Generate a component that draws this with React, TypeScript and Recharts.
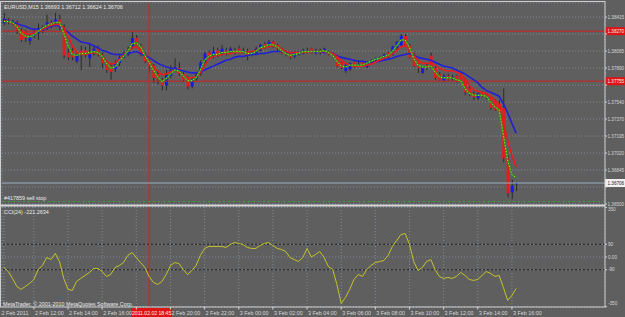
import React from 'react';
import { ComposedChart, LineChart, Bar, Line, XAxis, YAxis, CartesianGrid, ReferenceLine } from 'recharts';

// EURUSD M15, 2 Feb 2011 10:15 .. 3 Feb 2011 16:15
const open = [
  1.3835, 1.3839, 1.3836, 1.3836, 1.3827, 1.3825, 1.3817, 1.3822, 1.3825, 1.3827,
  1.3830, 1.3836, 1.3834, 1.3839, 1.3831, 1.3805, 1.3807, 1.3796, 1.3807, 1.3807,
  1.3799, 1.3804, 1.3809, 1.3803, 1.3794, 1.3791, 1.3788, 1.3794, 1.3800, 1.3803,
  1.3811, 1.3820, 1.3812, 1.3803, 1.3796, 1.3791, 1.3783, 1.3777, 1.3771, 1.3781,
  1.3787, 1.3789, 1.3783, 1.3779, 1.3770, 1.3778, 1.3783, 1.3795, 1.3805, 1.3801,
  1.3807, 1.3803, 1.3807, 1.3805, 1.3807, 1.3809, 1.3805, 1.3806, 1.3803, 1.3804,
  1.3807, 1.3814, 1.3811, 1.3816, 1.3813, 1.3809, 1.3805, 1.3804, 1.3801, 1.3803,
  1.3804, 1.3807, 1.3809, 1.3804, 1.3807, 1.3805, 1.3806, 1.3804, 1.3801, 1.3795,
  1.3786, 1.3788, 1.3795, 1.3791, 1.3795, 1.3790, 1.3795, 1.3797, 1.3798, 1.3799,
  1.3805, 1.3803, 1.3810, 1.3812, 1.3822, 1.3812, 1.3803, 1.3797, 1.3784, 1.3792,
  1.3802, 1.3789, 1.3783, 1.3776, 1.3781, 1.3778, 1.3781, 1.3782, 1.3777, 1.3768,
  1.3763, 1.3758, 1.3764, 1.3762, 1.3759, 1.3755, 1.3752, 1.3748, 1.3696, 1.3661,
  1.36693,
];
const high = [
  1.3846, 1.3841, 1.3839, 1.3838, 1.3830, 1.3828, 1.3825, 1.3828, 1.3835, 1.3833,
  1.3844, 1.3838, 1.3846, 1.3844, 1.3834, 1.3810, 1.3810, 1.3805, 1.3812, 1.3811,
  1.3815, 1.3811, 1.3812, 1.3805, 1.3797, 1.3794, 1.3797, 1.3802, 1.3807, 1.3811,
  1.3826, 1.3823, 1.3814, 1.3805, 1.3798, 1.3793, 1.3787, 1.3779, 1.3787, 1.3792,
  1.3799, 1.3795, 1.3785, 1.3781, 1.3779, 1.3785, 1.3797, 1.3806, 1.3807, 1.3811,
  1.3810, 1.3813, 1.3810, 1.3811, 1.3810, 1.3812, 1.3810, 1.3809, 1.3807, 1.3811,
  1.3814, 1.3816, 1.3818, 1.3817, 1.3814, 1.3810, 1.3807, 1.3805, 1.3806, 1.3806,
  1.3809, 1.3810, 1.3810, 1.3809, 1.3809, 1.3810, 1.3807, 1.3805, 1.3802, 1.3796,
  1.3793, 1.3795, 1.3796, 1.3797, 1.3796, 1.3796, 1.3798, 1.3800, 1.3801, 1.3804,
  1.3806, 1.3812, 1.3817, 1.3824, 1.3824, 1.3814, 1.3805, 1.3798, 1.3791, 1.3794,
  1.3805, 1.3791, 1.3785, 1.3783, 1.3783, 1.3782, 1.3782, 1.3785, 1.3779, 1.3772,
  1.3765, 1.3764, 1.3765, 1.3763, 1.3760, 1.3757, 1.3756, 1.3768, 1.3699, 1.3674,
  1.36712,
];
const low = [
  1.3833, 1.3834, 1.3833, 1.3824, 1.3816, 1.3816, 1.3813, 1.3820, 1.3818, 1.3825,
  1.3828, 1.3830, 1.3832, 1.3828, 1.3799, 1.3797, 1.3797, 1.3794, 1.3787, 1.3800,
  1.3790, 1.3802, 1.3801, 1.3789, 1.3784, 1.3777, 1.3785, 1.3791, 1.3799, 1.3801,
  1.3809, 1.3810, 1.3801, 1.3794, 1.3784, 1.3774, 1.3772, 1.3766, 1.3766, 1.3779,
  1.3786, 1.3781, 1.3775, 1.3767, 1.3768, 1.3776, 1.3781, 1.3793, 1.3799, 1.3799,
  1.3800, 1.3802, 1.3802, 1.3804, 1.3803, 1.3804, 1.3804, 1.3797, 1.3801, 1.3803,
  1.3806, 1.3809, 1.3810, 1.3810, 1.3806, 1.3803, 1.3801, 1.3798, 1.3799, 1.3802,
  1.3803, 1.3804, 1.3804, 1.3803, 1.3803, 1.3804, 1.3802, 1.3800, 1.3790, 1.3788,
  1.3784, 1.3786, 1.3789, 1.3790, 1.3790, 1.3789, 1.3793, 1.3795, 1.3796, 1.3798,
  1.3799, 1.3802, 1.3807, 1.3811, 1.3811, 1.3799, 1.3790, 1.3784, 1.3783, 1.3787,
  1.3789, 1.3777, 1.3776, 1.3775, 1.3776, 1.3776, 1.3774, 1.3774, 1.3761, 1.3760,
  1.3756, 1.3756, 1.3759, 1.3757, 1.3746, 1.3745, 1.3742, 1.3692, 1.3656, 1.3654,
  1.36624,
];
const close = [
  1.3840, 1.3836, 1.3837, 1.3828, 1.3818, 1.3820, 1.3822, 1.3826, 1.3830, 1.3831,
  1.3836, 1.3832, 1.3839, 1.3833, 1.3802, 1.3800, 1.3800, 1.3803, 1.3804, 1.3803,
  1.3805, 1.3809, 1.3804, 1.3794, 1.3787, 1.3785, 1.3794, 1.3800, 1.3804, 1.3807,
  1.3820, 1.3812, 1.3803, 1.3796, 1.3791, 1.3779, 1.3777, 1.3771, 1.3782, 1.3787,
  1.3790, 1.3783, 1.3777, 1.3770, 1.3777, 1.3782, 1.3795, 1.3804, 1.3800, 1.3806,
  1.3802, 1.3809, 1.3804, 1.3809, 1.3805, 1.3806, 1.3807, 1.3802, 1.3805, 1.3809,
  1.3813, 1.3810, 1.3816, 1.3812, 1.3809, 1.3804, 1.3803, 1.3800, 1.3805, 1.3805,
  1.3807, 1.3806, 1.3805, 1.3807, 1.3805, 1.3809, 1.3803, 1.3801, 1.3791, 1.3789,
  1.3792, 1.3794, 1.3790, 1.3793, 1.3791, 1.3795, 1.3797, 1.3799, 1.3799, 1.3803,
  1.3801, 1.3811, 1.3816, 1.3822, 1.3812, 1.3800, 1.3791, 1.3789, 1.3790, 1.3789,
  1.3790, 1.3779, 1.3777, 1.3781, 1.3777, 1.3780, 1.3775, 1.3776, 1.3764, 1.3762,
  1.3759, 1.3763, 1.3760, 1.3759, 1.3748, 1.3746, 1.3744, 1.3696, 1.3660, 1.3668,
  1.36706,
];

// moving averages as drawn on the chart (blue slow, red medium, green/yellow fast)
const maSlow = [
  1.3839, 1.3838, 1.3836, 1.3835, 1.3833, 1.3832, 1.3830, 1.3829, 1.3829, 1.3829,
  1.3830, 1.3832, 1.3833, 1.3832, 1.3829, 1.3826, 1.3822, 1.3819, 1.3816, 1.3815,
  1.3814, 1.3812, 1.3810, 1.3807, 1.3806, 1.3804, 1.3803, 1.3803, 1.3803, 1.3804,
  1.3805, 1.3806, 1.3804, 1.3802, 1.3800, 1.3797, 1.3794, 1.3792, 1.3790, 1.3789,
  1.3788, 1.3787, 1.3786, 1.3785, 1.3784, 1.3784, 1.3785, 1.3787, 1.3789, 1.3791,
  1.3793, 1.3795, 1.3797, 1.3798, 1.3800, 1.3801, 1.3801, 1.3802, 1.3803, 1.3803,
  1.3804, 1.3804, 1.3805, 1.3806, 1.3806, 1.3806, 1.3805, 1.3805, 1.3805, 1.3805,
  1.3806, 1.3806, 1.3806, 1.3806, 1.3806, 1.3805, 1.3805, 1.3804, 1.3802, 1.3800,
  1.3799, 1.3798, 1.3797, 1.3796, 1.3796, 1.3795, 1.3795, 1.3795, 1.3796, 1.3797,
  1.3798, 1.3799, 1.3801, 1.3802, 1.3803, 1.3804, 1.3802, 1.3800, 1.3799, 1.3798,
  1.3797, 1.3795, 1.3793, 1.3791, 1.3790, 1.3789, 1.3787, 1.3785, 1.3783, 1.3780,
  1.3777, 1.3774, 1.3769, 1.3766, 1.3764, 1.3762, 1.3760, 1.3752, 1.3743, 1.3732,
  1.3722,
];
const maMid = [
  1.3838, 1.3837, 1.3835, 1.3831, 1.3827, 1.3825, 1.3824, 1.3825, 1.3827, 1.3829,
  1.3831, 1.3833, 1.3834, 1.3834, 1.3830, 1.3822, 1.3812, 1.3805, 1.3803, 1.3803,
  1.3804, 1.3805, 1.3804, 1.3801, 1.3796, 1.3793, 1.3794, 1.3798, 1.3802, 1.3806,
  1.3810, 1.3811, 1.3807, 1.3802, 1.3796, 1.3790, 1.3786, 1.3782, 1.3783, 1.3785,
  1.3787, 1.3785, 1.3782, 1.3779, 1.3779, 1.3780, 1.3784, 1.3792, 1.3798, 1.3801,
  1.3802, 1.3803, 1.3804, 1.3804, 1.3805, 1.3805, 1.3805, 1.3805, 1.3806, 1.3807,
  1.3809, 1.3810, 1.3811, 1.3812, 1.3811, 1.3809, 1.3806, 1.3805, 1.3805, 1.3805,
  1.3805, 1.3805, 1.3806, 1.3806, 1.3806, 1.3806, 1.3805, 1.3804, 1.3801, 1.3797,
  1.3794, 1.3792, 1.3791, 1.3791, 1.3791, 1.3792, 1.3793, 1.3795, 1.3797, 1.3799,
  1.3801, 1.3804, 1.3807, 1.3811, 1.3812, 1.3809, 1.3802, 1.3797, 1.3794, 1.3794,
  1.3794, 1.3792, 1.3789, 1.3787, 1.3786, 1.3786, 1.3785, 1.3783, 1.3778, 1.3771,
  1.3767, 1.3765, 1.3764, 1.3763, 1.3760, 1.3756, 1.3752, 1.3732, 1.3715, 1.3699,
  1.3687,
];
const maFast = [
  1.3837, 1.3837, 1.3836, 1.3832, 1.3825, 1.3822, 1.3821, 1.3823, 1.3827, 1.3830,
  1.3833, 1.3834, 1.3836, 1.3836, 1.3825, 1.3812, 1.3803, 1.3802, 1.3804, 1.3804,
  1.3805, 1.3806, 1.3805, 1.3801, 1.3794, 1.3789, 1.3790, 1.3796, 1.3801, 1.3806,
  1.3814, 1.3815, 1.3811, 1.3802, 1.3795, 1.3787, 1.3780, 1.3775, 1.3778, 1.3783,
  1.3787, 1.3786, 1.3781, 1.3776, 1.3776, 1.3779, 1.3787, 1.3797, 1.3801, 1.3803,
  1.3803, 1.3805, 1.3805, 1.3806, 1.3806, 1.3806, 1.3806, 1.3804, 1.3804, 1.3806,
  1.3810, 1.3811, 1.3813, 1.3813, 1.3811, 1.3807, 1.3804, 1.3802, 1.3803, 1.3804,
  1.3806, 1.3806, 1.3806, 1.3806, 1.3806, 1.3807, 1.3805, 1.3802, 1.3796, 1.3791,
  1.3790, 1.3792, 1.3792, 1.3792, 1.3792, 1.3794, 1.3796, 1.3798, 1.3799, 1.3801,
  1.3802, 1.3806, 1.3812, 1.3818, 1.3818, 1.3810, 1.3799, 1.3792, 1.3790, 1.3790,
  1.3791, 1.3785, 1.3780, 1.3779, 1.3779, 1.3779, 1.3777, 1.3776, 1.3768, 1.3763,
  1.3761, 1.3761, 1.3761, 1.3760, 1.3754, 1.3749, 1.3746, 1.3720, 1.3694, 1.3679,
  1.3676,
];
const cci = [
  -74, -102, -151, -207, -228, -207, -186, -158, -88, -60,
  -4, -18, 25, -32, -151, -228, -235, -172, -151, -130,
  -109, -81, -81, -102, -137, -123, -74, -60, -39, 11,
  32, -4, -39, -74, -137, -179, -193, -172, -123, -60,
  -39, -46, -88, -123, -95, -60, 11, 60, 74, 74,
  74, 74, 67, 88, 102, 95, 88, 67, 60, 60,
  81, 95, 102, 81, 60, 53, 39, -4, -18, -32,
  -4, 60, 0, 18, 39, -4, -67, -88, -193, -327,
  -285, -228, -158, -123, -137, -88, -60, -39, -32, -25,
  11, 74, 116, 158, 165, 88, -32, -95, -74, -32,
  -18, -88, -137, -151, -144, -151, -137, -109, -130, -158,
  -165, -158, -130, -102, -116, -137, -130, -214, -306, -271,
  -221.2634,
];

// time grid every 8 bars; the 18:00 label sits under the red 18:45 marker
const timeTickBars = [0, 7, 15, 23, 31, 39, 47, 55, 63, 71, 79, 87, 95, 103, 111, 119];
const timeTickLabels = [
  '2 Feb 2011', '2 Feb 12:00', '2 Feb 14:00', '2 Feb 16:00', '', '2 Feb 20:00',
  '2 Feb 22:00', '3 Feb 00:00', '3 Feb 02:00', '3 Feb 04:00', '3 Feb 06:00', '3 Feb 08:00',
  '3 Feb 10:00', '3 Feb 12:00', '3 Feb 14:00', '3 Feb 16:00',
];
// price grid; the labels covered by the line price boxes are left blank
const priceTicks = [1.38415, 1.3824, 1.38065, 1.3789, 1.37715, 1.3754, 1.37365, 1.3719, 1.37015, 1.3684, 1.36665, 1.3649];
const priceTickLabels = ['1.38415', '', '1.38065', '1.37890', '', '1.37540', '1.37370', '1.37195', '1.37020', '1.36845', '', '1.36500'];
const cciTicks = [350, 90, 0, -90, -350];
const cciTickLabels = ['350', '90', '0.00', '-90', '-350'];
const cciLevels = [90, -90];

const hLines = [1.3827, 1.37755];
const hLineLabels = ['1.38270', '1.37755'];
const bidPrice = 1.36706;
const sellStopPrice = 1.36515;
const vLineBar = 34;
const vLineLabel = '2011.02.02 18:45';

const rows = close.map((c, i) => ({
  i,
  o: open[i],
  h: high[i],
  l: low[i],
  c,
  slow: maSlow[i],
  mid: maMid[i],
  fast: maFast[i],
  cci: cci[i],
}));

const X_DOMAIN: [number, number] = [-0.469, 140.81];
const BG = '#5f5f5f';
const GRID = '#7f8a98';
const FG = '#d6d6d6';
const FONT = 'Liberation Sans, Arial, sans-serif';

const Candle = (props: any) => {
  const { x, y, width, height, payload } = props;
  if (!payload) return null;
  const top = Math.min(y, y + height);
  const h = Math.abs(height);
  const span = payload.h - payload.l || 1;
  const py = (v: number) => top + ((payload.h - v) / span) * h;
  const up = payload.c >= payload.o;
  const cx = x + width / 2;
  const bTop = py(Math.max(payload.o, payload.c));
  const bBot = py(Math.min(payload.o, payload.c));
  return (
    <g>
      <line x1={cx} x2={cx} y1={top} y2={top + h} stroke="#2a2a2a" strokeWidth={1} />
      <rect x={x} y={bTop} width={width} height={Math.max(bBot - bTop, 1)} fill={up ? '#1a1ae6' : '#e51c1c'} />
    </g>
  );
};

const PriceTick = (props: any) => {
  const { x, y, payload } = props;
  const label = priceTickLabels[priceTicks.indexOf(payload.value)];
  return (
    <g>
      <line x1={x} x2={x + 2} y1={y} y2={y} stroke={FG} />
      {label && <text x={x + 2.5} y={y + 1.6} fill={FG} fontSize={4.6} fontFamily={FONT}>{label}</text>}
    </g>
  );
};

const CciTick = (props: any) => {
  const { x, y, payload } = props;
  const label = cciTickLabels[cciTicks.indexOf(payload.value)];
  const dy = payload.value === 350 ? 4 : payload.value === -350 ? -1.5 : 1.6;
  return (
    <g>
      <line x1={x} x2={x + 2} y1={y} y2={y} stroke={FG} />
      <text x={x + 3} y={y + dy} fill={FG} fontSize={4.6} fontFamily={FONT}>{label}</text>
    </g>
  );
};

const TimeTick = (props: any) => {
  const { x, y, payload } = props;
  const idx = timeTickBars.indexOf(payload.value);
  const label = timeTickLabels[idx];
  const tx = idx === 0 ? x - 2.5 : x + 1;
  return (
    <g>
      {idx > 0 && <line x1={x} x2={x} y1={y} y2={y + 2.5} stroke={FG} />}
      {label && <text x={tx} y={y + 7.5} fill={FG} fontSize={5.4} fontFamily={FONT}>{label}</text>}
    </g>
  );
};

const PriceBox = (props: any) => {
  const { viewBox, text, fill, color } = props;
  if (!viewBox) return null;
  const x = viewBox.x + viewBox.width;
  const y = viewBox.y;
  return (
    <g>
      <rect x={x} y={y - 4} width={20} height={8} fill={fill} />
      <text x={x + 2.5} y={y + 1.6} fill={color} fontSize={4.6} fontFamily={FONT}>{text}</text>
    </g>
  );
};

const TimeBox = (props: any) => {
  const { viewBox } = props;
  if (!viewBox) return null;
  const x = viewBox.x;
  const y = viewBox.y + viewBox.height;
  return (
    <g>
      <rect x={x - 18} y={y + 1} width={41} height={9} fill="#e01414" />
      <text x={x + 2.5} y={y + 7.5} fill="#f0f0f0" fontSize={5.1} fontFamily={FONT} textAnchor="middle">{vLineLabel}</text>
    </g>
  );
};

const PriceChart = () => (
  <ComposedChart width={625} height={206} data={rows} margin={{ top: 3, right: 0, bottom: 2, left: 2 }}>
    <CartesianGrid stroke={GRID} strokeDasharray="1 2" />
    <XAxis dataKey="i" type="number" domain={X_DOMAIN} ticks={timeTickBars.slice(1)} height={0} tick={false} axisLine={false} tickLine={false} allowDataOverflow interval={0} />
    <YAxis orientation="right" width={20} domain={[1.3649, 1.3856]} ticks={priceTicks} tick={<PriceTick />} tickLine={false} axisLine={false} tickSize={0} tickMargin={0} allowDataOverflow interval={0} />
    <ReferenceLine x={vLineBar} stroke="#d42020" strokeWidth={1} />
    <ReferenceLine y={sellStopPrice} stroke="#34a834" strokeDasharray="2 3" />
    <ReferenceLine y={bidPrice} stroke="#9ab0c4" label={<PriceBox text="1.36706" fill="#f2f2f2" color="#202020" />} />
    {hLines.map((p, k) => (
      <ReferenceLine key={k} y={p} stroke="#d42020" label={<PriceBox text={hLineLabels[k]} fill="#e01414" color="#f0f0f0" />} />
    ))}
    <Bar dataKey={(d: any) => [d.l, d.h]} barSize={3} shape={(p: any) => <Candle {...p} />} isAnimationActive={false} />
    <Line dataKey="slow" type="linear" stroke="#2020d8" strokeWidth={1.6} dot={false} isAnimationActive={false} />
    <Line dataKey="mid" type="linear" stroke="#e81c1c" strokeWidth={1.6} dot={false} isAnimationActive={false} />
    <Line dataKey="fast" type="linear" stroke="#1e9a1e" strokeWidth={1.5} dot={false} isAnimationActive={false} />
    <Line dataKey="fast" type="linear" stroke="#e8e820" strokeWidth={1} strokeDasharray="1 2" dot={false} isAnimationActive={false} />
  </ComposedChart>
);

const CciChart = () => (
  <LineChart width={625} height={111} data={rows} margin={{ top: 1, right: 0, bottom: 0, left: 2 }}>
    <CartesianGrid stroke={GRID} strokeDasharray="1 2" />
    <XAxis dataKey="i" type="number" domain={X_DOMAIN} ticks={timeTickBars} height={10} tick={<TimeTick />} axisLine={false} tickLine={false} tickSize={0} tickMargin={0} allowDataOverflow interval={0} />
    <YAxis orientation="right" width={20} domain={[-352, 352]} ticks={cciTicks} tick={<CciTick />} tickLine={false} axisLine={false} tickSize={0} tickMargin={0} allowDataOverflow interval={0} />
    {cciLevels.map((v) => (
      <ReferenceLine key={v} y={v} stroke="#1c1c1c" strokeDasharray="2 2" />
    ))}
    <ReferenceLine x={vLineBar} stroke="#d42020" label={<TimeBox />} />
    <Line dataKey="cci" type="linear" stroke="#c4c428" strokeWidth={1} dot={false} isAnimationActive={false} />
  </LineChart>
);

export default function App() {
  return (
    <div style={{ position: 'absolute', left: 0, top: 0, width: 625, height: 317, background: BG, overflow: 'hidden' }}>
      <div style={{ position: 'absolute', left: 0, top: 0 }}>
        <PriceChart />
      </div>
      <div style={{ position: 'absolute', left: 0, top: 206 }}>
        <CciChart />
      </div>
      <svg width={625} height={317} style={{ position: 'absolute', left: 0, top: 0, pointerEvents: 'none' }}>
        <rect x={0.5} y={1.5} width={604.5} height={305.5} fill="none" stroke="#cfcfcf" strokeWidth={1} />
        <line x1={0} x2={605} y1={205.5} y2={205.5} stroke="#d8d8d8" strokeWidth={2} />
        <text x={4} y={8.5} fill="#ececec" fontSize={5.4} fontFamily={FONT}>EURUSD,M15  1.36693 1.36712 1.36624 1.36706</text>
        <text x={4} y={200} fill="#ececec" fontSize={5.4} fontFamily={FONT}>#417859 sell stop</text>
        <text x={4} y={213.5} fill="#ececec" fontSize={5.4} fontFamily={FONT}>CCI(24) -221.2634</text>
        <text x={3} y={305.5} fill="#ececec" fontSize={5.4} fontFamily={FONT}>MetaTrader, © 2001-2010 MetaQuotes Software Corp.</text>
      </svg>
    </div>
  );
}
